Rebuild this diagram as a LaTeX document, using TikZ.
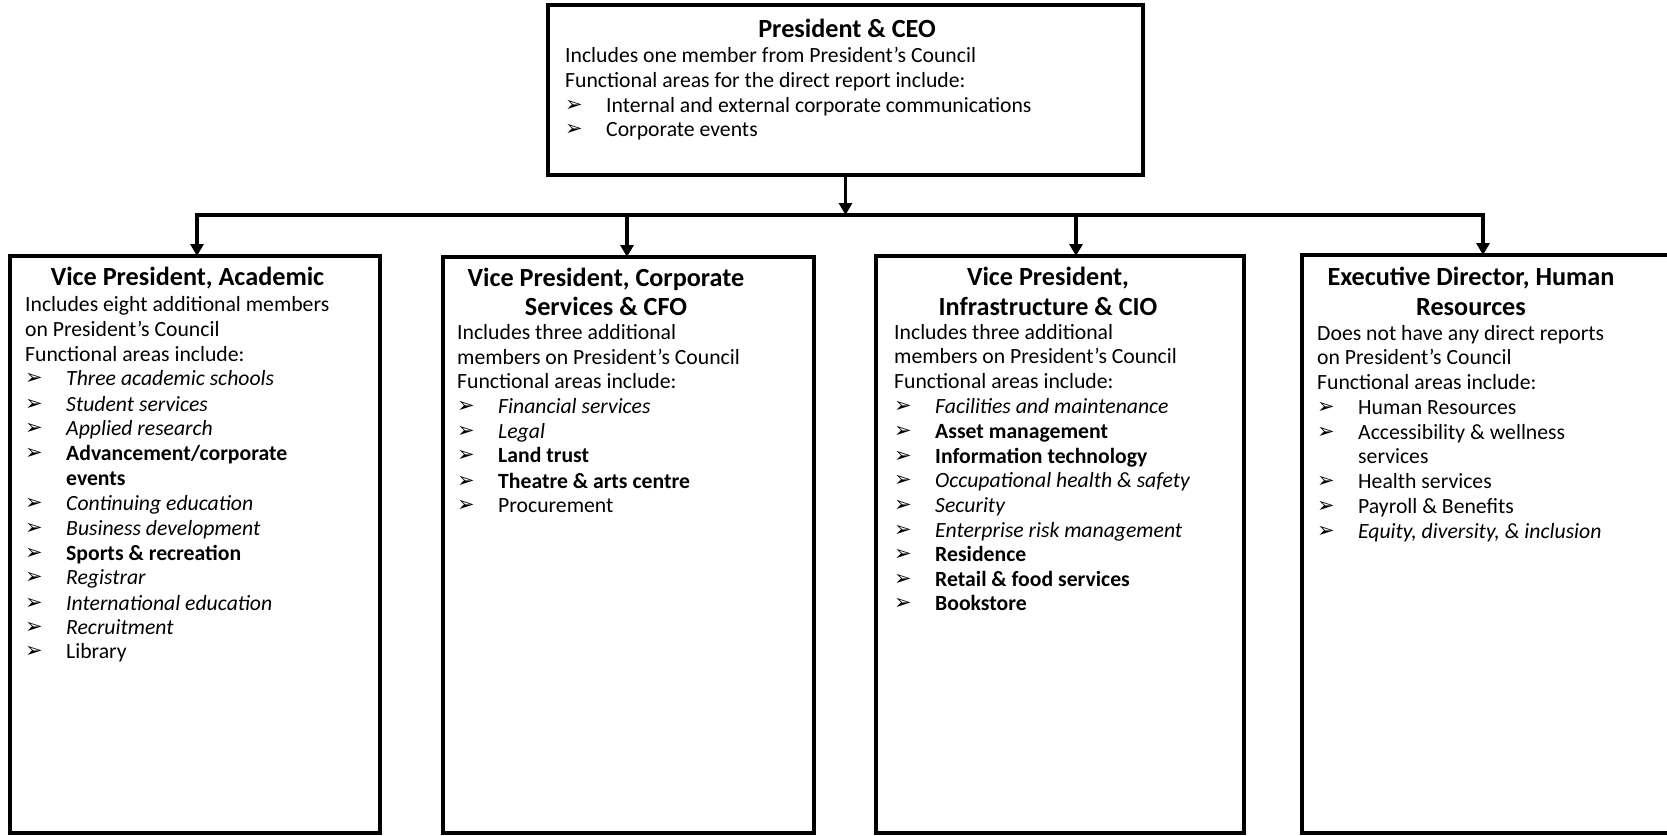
\documentclass[tikz,border=0pt]{standalone}
\usepackage{fontspec}
\setmainfont{Carlito}
\newfontfamily\dingfont{DejaVu Sans}
\usetikzlibrary{arrows.meta}
\newcommand{\bul}{\makebox[41pt][l]{\raisebox{0.5pt}{\dingfont\fontsize{21}{24}\selectfont ➢}}}
\begin{document}
\begin{tikzpicture}[x=1pt,y=-1pt,
  box/.style={draw, line width=3.5pt, inner sep=0pt, outer sep=0pt, anchor=north west},
  ttl/.style={font=\fontsize{26.2}{30}\selectfont\bfseries, anchor=mid, inner sep=0pt, yshift=-6pt},
  txt/.style={font=\fontsize{21.7}{25}\selectfont, anchor=mid west, inner sep=0pt, yshift=-6pt},
  txtb/.style={txt, yshift=2pt},
  conn/.style={line width=3.5pt},
  arr/.style={line width=3.5pt, -{Triangle[length=12pt,width=13pt]}},
]
\useasboundingbox (0,0) rectangle (1667,835);
\fill[white] (0,0) rectangle (1667,835);
\begin{scope}
\clip (0,0) rectangle (1667,835);
% boxes
\node[box, minimum width=595pt, minimum height=170pt] (pres) at (548,5) {};
\node[box, minimum width=370pt, minimum height=577pt] (vpa) at (10,256) {};
\node[box, minimum width=371pt, minimum height=576pt] (vpc) at (443,257) {};
\node[box, minimum width=368pt, minimum height=577pt] (vpi) at (876,256) {};
\node[box, minimum width=400pt, minimum height=578pt] (edh) at (1302,255) {};
% connectors
\coordinate (busL) at (197,215);
\coordinate (busR) at (1483,215);
\coordinate (bus2) at (627,215);
\coordinate (bus3) at (1076,215);
\coordinate (busM) at (pres.south |- busL);
\draw[arr] (pres.south) -- (busM);
\draw[arr, line join=miter] (busM) -- (busL) -- (busL |- vpa.north);
\draw[arr, line join=miter] (busM) -- (busR) -- (busR |- edh.north);
\draw[arr] (bus2) -- (bus2 |- vpc.north);
\draw[arr] (bus3) -- (bus3 |- vpi.north);
\end{scope}
% President
\node[ttl] (pt) at (847,29) {President \& CEO};
\node[txt] (p1) at (565,54) {Includes one member from President’s Council};
\node[txt] (p2) at (565,79) {Functional areas for the direct report include:};
\node[txt] (p3) at (565,104) {\bul Internal and external corporate communications};
\node[txt] (p4) at (565,128) {\bul Corporate events};
% VP Academic
\node[ttl] (at) at (187.5,277) {Vice President, Academic};
\node[txt] (a1) at (25,303) {Includes eight additional members};
\node[txt] (a2) at (25,328) {on President’s Council};
\node[txt] (a3) at (25,353) {Functional areas include:};
\node[txt] (a4) at (25,377) {\bul\textit{Three academic schools}};
\node[txt] (a5) at (25,403) {\bul\textit{Student services}};
\node[txt] (a6) at (25,427) {\bul\textit{Applied research}};
\node[txt] (a7) at (25,452) {\bul\textbf{Advancement/corporate}};
\node[txt] (a8) at (66,477) {\textbf{events}};
\node[txt] (a9) at (25,502) {\bul\textit{Continuing education}};
\node[txt] (a10) at (25,527) {\bul\textit{Business development}};
\node[txt] (a11) at (25,552) {\bul\textbf{Sports \& recreation}};
\node[txt] (a12) at (25,576) {\bul\textit{Registrar}};
\node[txt] (a13) at (25,602) {\bul\textit{International education}};
\node[txt] (a14) at (25,626) {\bul\textit{Recruitment}};
\node[txt] (a15) at (25,650) {\bul Library};
% VP Corporate
\node[ttl] (ct1) at (606,278) {Vice President, Corporate};
\node[ttl] (ct2) at (606,307) {Services \& CFO};
\node[txtb] (c1) at (457,333) {Includes three additional};
\node[txtb] (c2) at (457,358) {members on President’s Council};
\node[txtb] (c3) at (457,382) {Functional areas include:};
\node[txtb] (c4) at (457,407) {\bul\textit{Financial services}};
\node[txtb] (c5) at (457,432) {\bul\textit{Legal}};
\node[txtb] (c6) at (457,456) {\bul\textbf{Land trust}};
\node[txtb] (c7) at (457,482) {\bul\textbf{Theatre \& arts centre}};
\node[txtb] (c8) at (457,506) {\bul Procurement};
% VP Infrastructure
\node[ttl] (it1) at (1048,277) {Vice President,};
\node[ttl] (it2) at (1048,307) {Infrastructure \& CIO};
\node[txtb] (i1) at (894,333) {Includes three additional};
\node[txtb] (i2) at (894,357) {members on President’s Council};
\node[txtb] (i3) at (894,382) {Functional areas include:};
\node[txtb] (i4) at (894,407) {\bul\textit{Facilities and maintenance}};
\node[txtb] (i5) at (894,432) {\bul\textbf{Asset management}};
\node[txtb] (i6) at (894,457) {\bul\textbf{Information technology}};
\node[txtb] (i7) at (894,481) {\bul\textit{Occupational health \& safety}};
\node[txtb] (i8) at (894,506) {\bul\textit{Security}};
\node[txtb] (i9) at (894,531) {\bul\textit{Enterprise risk management}};
\node[txtb] (i10) at (894,555) {\bul\textbf{Residence}};
\node[txtb] (i11) at (894,580) {\bul\textbf{Retail \& food services}};
\node[txtb] (i12) at (894,604) {\bul\textbf{Bookstore}};
% ED HR
\node[ttl] (ht1) at (1471,277) {Executive Director, Human};
\node[ttl] (ht2) at (1471,307) {Resources};
\node[txtb] (h1) at (1317,334) {Does not have any direct reports};
\node[txtb] (h2) at (1317,358) {on President’s Council};
\node[txtb] (h3) at (1317,383) {Functional areas include:};
\node[txtb] (h4) at (1317,408) {\bul Human Resources};
\node[txtb] (h5) at (1317,433) {\bul Accessibility \& wellness};
\node[txtb] (h6) at (1358,457) {services};
\node[txtb] (h7) at (1317,482) {\bul Health services};
\node[txtb] (h8) at (1317,507) {\bul Payroll \& Benefits};
\node[txtb] (h9) at (1317,532) {\bul\textit{Equity, diversity, \& inclusion}};
\end{tikzpicture}
\end{document}
